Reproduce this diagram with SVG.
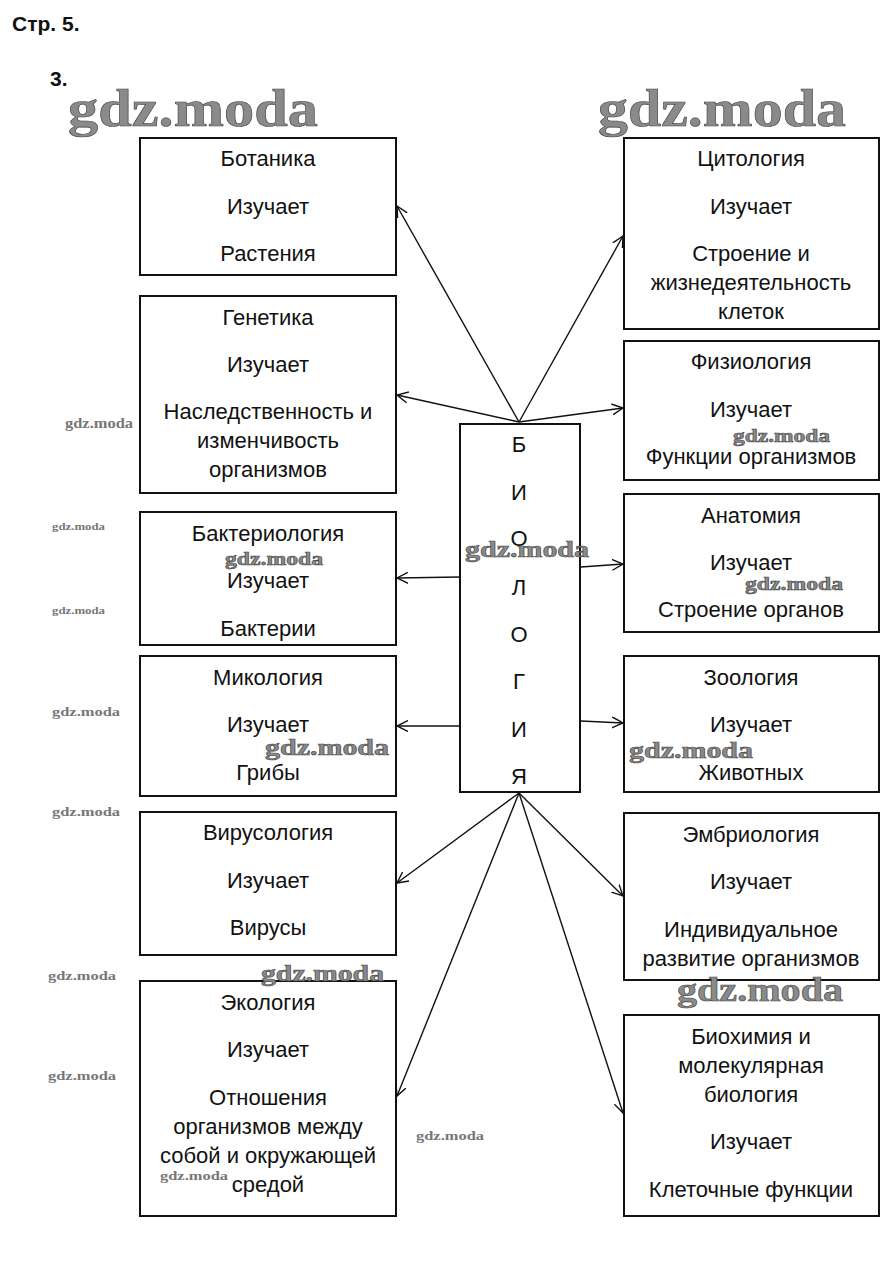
<svg xmlns="http://www.w3.org/2000/svg" width="894" height="1272" viewBox="0 0 894 1272">
<defs>
<marker id="arr" viewBox="0 0 12 12" refX="11" refY="6" markerWidth="12" markerHeight="12" markerUnits="userSpaceOnUse" orient="auto">
<path d="M0,0.5 L11,6 L0,11.5" fill="none" stroke="#111" stroke-width="1.4"/>
</marker>
</defs>
<style>
.box{fill:#fff;stroke:#111;stroke-width:2}
.t{font-family:"Liberation Sans",Arial,sans-serif;font-size:22px;fill:#111;text-anchor:middle}
.h{font-family:"Liberation Sans",Arial,sans-serif;font-size:21px;font-weight:bold;fill:#111}
.c{stroke:#111;stroke-width:1.4;fill:none;marker-end:url(#arr)}
.wm{font-family:"Liberation Serif","DejaVu Serif",serif;font-weight:bold;fill:#8a8a8a;stroke:#444;stroke-width:0.6}
.ws{font-family:"Liberation Serif","DejaVu Serif",serif;font-weight:bold;fill:#777}
</style>
<rect width="894" height="1272" fill="#fff"/>
<text class="h" x="12" y="31">Стр. 5.</text>
<text class="h" x="50" y="86">3.</text>

<g id="connectors">
<line class="c" x1="519" y1="422" x2="397" y2="206"/>
<line class="c" x1="519" y1="422" x2="397" y2="395"/>
<line class="c" x1="519" y1="422" x2="623" y2="236"/>
<line class="c" x1="519" y1="422" x2="623" y2="408"/>
<line class="c" x1="460" y1="577" x2="397" y2="578"/>
<line class="c" x1="460" y1="726" x2="397" y2="726"/>
<line class="c" x1="581" y1="567" x2="623" y2="564"/>
<line class="c" x1="581" y1="721" x2="623" y2="723"/>
<line class="c" x1="519" y1="793" x2="397" y2="883"/>
<line class="c" x1="519" y1="793" x2="397" y2="1096"/>
<line class="c" x1="519" y1="793" x2="623" y2="896"/>
<line class="c" x1="519" y1="793" x2="623" y2="1113"/>
</g>

<g id="center">
<rect class="box" x="460" y="424" width="120" height="368"/>
<text class="t" x="519" y="452">Б</text>
<text class="t" x="519" y="500">И</text>
<text class="t" x="519" y="546">О</text>
<text class="t" x="519" y="595">Л</text>
<text class="t" x="519" y="642">О</text>
<text class="t" x="519" y="689">Г</text>
<text class="t" x="519" y="737">И</text>
<text class="t" x="519" y="784">Я</text>
</g>

<g id="botanika">
<rect class="box" x="140" y="138" width="256" height="137"/>
<text class="t" x="268" y="166">Ботаника</text>
<text class="t" x="268" y="214">Изучает</text>
<text class="t" x="268" y="261">Растения</text>
</g>
<g id="genetika">
<rect class="box" x="140" y="296" width="256" height="197"/>
<text class="t" x="268" y="325">Генетика</text>
<text class="t" x="268" y="372">Изучает</text>
<text class="t" x="268" y="419">Наследственность и</text>
<text class="t" x="268" y="448">изменчивость</text>
<text class="t" x="268" y="477">организмов</text>
</g>
<g id="bakteriologiya">
<rect class="box" x="140" y="512" width="256" height="133"/>
<text class="t" x="268" y="541">Бактериология</text>
<text class="t" x="268" y="588">Изучает</text>
<text class="t" x="268" y="636">Бактерии</text>
</g>
<g id="mikologiya">
<rect class="box" x="140" y="656" width="256" height="140"/>
<text class="t" x="268" y="685">Микология</text>
<text class="t" x="268" y="732">Изучает</text>
<text class="t" x="268" y="780">Грибы</text>
</g>
<g id="virusologiya">
<rect class="box" x="140" y="812" width="256" height="143"/>
<text class="t" x="268" y="840">Вирусология</text>
<text class="t" x="268" y="888">Изучает</text>
<text class="t" x="268" y="935">Вирусы</text>
</g>
<g id="ekologiya">
<rect class="box" x="140" y="981" width="256" height="235"/>
<text class="t" x="268" y="1010">Экология</text>
<text class="t" x="268" y="1057">Изучает</text>
<text class="t" x="268" y="1105">Отношения</text>
<text class="t" x="268" y="1134">организмов между</text>
<text class="t" x="268" y="1163">собой и окружающей</text>
<text class="t" x="268" y="1192">средой</text>
</g>

<g id="citologiya">
<rect class="box" x="624" y="138" width="255" height="191"/>
<text class="t" x="751" y="166">Цитология</text>
<text class="t" x="751" y="214">Изучает</text>
<text class="t" x="751" y="261">Строение и</text>
<text class="t" x="751" y="290">жизнедеятельность</text>
<text class="t" x="751" y="319">клеток</text>
</g>
<g id="fiziologiya">
<rect class="box" x="624" y="341" width="255" height="139"/>
<text class="t" x="751" y="369">Физиология</text>
<text class="t" x="751" y="417">Изучает</text>
<text class="t" x="751" y="464">Функции организмов</text>
</g>
<g id="anatomiya">
<rect class="box" x="624" y="494" width="255" height="138"/>
<text class="t" x="751" y="523">Анатомия</text>
<text class="t" x="751" y="570">Изучает</text>
<text class="t" x="751" y="617">Строение органов</text>
</g>
<g id="zoologiya">
<rect class="box" x="624" y="656" width="255" height="136"/>
<text class="t" x="751" y="685">Зоология</text>
<text class="t" x="751" y="732">Изучает</text>
<text class="t" x="751" y="780">Животных</text>
</g>
<g id="embriologiya">
<rect class="box" x="624" y="813" width="255" height="167"/>
<text class="t" x="751" y="842">Эмбриология</text>
<text class="t" x="751" y="889">Изучает</text>
<text class="t" x="751" y="937">Индивидуальное</text>
<text class="t" x="751" y="966">развитие организмов</text>
</g>
<g id="biohimiya">
<rect class="box" x="624" y="1015" width="255" height="201"/>
<text class="t" x="751" y="1044">Биохимия и</text>
<text class="t" x="751" y="1073">молекулярная</text>
<text class="t" x="751" y="1102">биология</text>
<text class="t" x="751" y="1149">Изучает</text>
<text class="t" x="751" y="1197">Клеточные функции</text>
</g>

<g id="watermarks">
<text class="wm" x="68" y="126" font-size="52" textLength="250" lengthAdjust="spacingAndGlyphs">gdz.moda</text>
<text class="wm" x="598" y="126" font-size="52" textLength="248" lengthAdjust="spacingAndGlyphs">gdz.moda</text>
<text class="wm" x="677" y="1001" font-size="34" textLength="166" lengthAdjust="spacingAndGlyphs">gdz.moda</text>
<text class="wm" x="465" y="557" font-size="24" textLength="124" lengthAdjust="spacingAndGlyphs">gdz.moda</text>
<text class="wm" x="265" y="755" font-size="23" textLength="124" lengthAdjust="spacingAndGlyphs">gdz.moda</text>
<text class="wm" x="629" y="758" font-size="24" textLength="124" lengthAdjust="spacingAndGlyphs">gdz.moda</text>
<text class="wm" x="261" y="981" font-size="24" textLength="123" lengthAdjust="spacingAndGlyphs">gdz.moda</text>
<text class="wm" x="733" y="442" font-size="19" textLength="97" lengthAdjust="spacingAndGlyphs">gdz.moda</text>
<text class="wm" x="225" y="565" font-size="19" textLength="98" lengthAdjust="spacingAndGlyphs">gdz.moda</text>
<text class="wm" x="745" y="590" font-size="19" textLength="98" lengthAdjust="spacingAndGlyphs">gdz.moda</text>
<text class="ws" x="65" y="428" font-size="14" textLength="68" lengthAdjust="spacingAndGlyphs">gdz.moda</text>
<text class="ws" x="52" y="530" font-size="11" textLength="53" lengthAdjust="spacingAndGlyphs">gdz.moda</text>
<text class="ws" x="52" y="614" font-size="11" textLength="53" lengthAdjust="spacingAndGlyphs">gdz.moda</text>
<text class="ws" x="52" y="716" font-size="13" textLength="68" lengthAdjust="spacingAndGlyphs">gdz.moda</text>
<text class="ws" x="52" y="816" font-size="13" textLength="68" lengthAdjust="spacingAndGlyphs">gdz.moda</text>
<text class="ws" x="48" y="980" font-size="13" textLength="68" lengthAdjust="spacingAndGlyphs">gdz.moda</text>
<text class="ws" x="48" y="1080" font-size="13" textLength="68" lengthAdjust="spacingAndGlyphs">gdz.moda</text>
<text class="ws" x="416" y="1140" font-size="13" textLength="68" lengthAdjust="spacingAndGlyphs">gdz.moda</text>
<text class="ws" x="160" y="1180" font-size="13" textLength="68" lengthAdjust="spacingAndGlyphs">gdz.moda</text>
</g>
</svg>
